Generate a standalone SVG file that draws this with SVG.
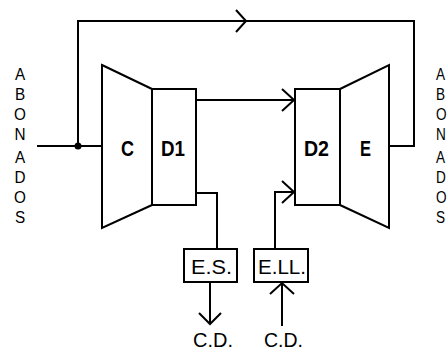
<svg xmlns="http://www.w3.org/2000/svg" width="448" height="352" viewBox="0 0 448 352">
<style>
.s{fill:none;stroke:#000;stroke-width:2;stroke-linejoin:miter}
.b{fill:#fff;stroke:#000;stroke-width:2}
.lb{font-family:"Liberation Sans",Arial,sans-serif;font-weight:bold;font-size:22px;fill:#000}
.t{font-family:"Liberation Sans",Arial,sans-serif;font-size:21px;fill:#000}
.v{font-family:"Liberation Sans",Arial,sans-serif;font-size:17px;fill:#000;text-anchor:middle}
.w{font-family:"Liberation Sans",Arial,sans-serif;font-size:17px;fill:#000}
</style>
<rect width="448" height="352" fill="#fff"/>
<g id="connectors">
<polyline class="s" points="78,146 78,21 414,21 414,146 389,146"/>
<line class="s" x1="37" y1="146" x2="102" y2="146"/>
<circle cx="78" cy="146" r="3.5" fill="#000"/>
<polyline class="s" points="236,10 246,21 236,32"/>
<line class="s" x1="196" y1="100" x2="295" y2="100"/>
<polyline class="s" points="282,89 294,100 282,111"/>
<polyline class="s" points="196,193 217,193 217,249"/>
<line class="s" x1="210" y1="282" x2="210" y2="324"/>
<polyline class="s" points="199,313 210,324 221,313"/>
<line class="s" x1="282" y1="326" x2="282" y2="282"/>
<polyline class="s" points="270,294 282,283 294,294"/>
<polyline class="s" points="275,249 275,192 295,192"/>
<polyline class="s" points="282,181 294,192 282,203"/>
</g>
<g id="node-C">
<polygon class="b" points="102,65 152,89 152,205 102,228"/>
<text class="lb" x="121" y="156" textLength="13" lengthAdjust="spacingAndGlyphs">C</text>
</g>
<g id="node-D1">
<rect class="b" x="152" y="89" width="44" height="116"/>
<text class="lb" x="161" y="156" textLength="24" lengthAdjust="spacingAndGlyphs">D1</text>
</g>
<g id="node-D2">
<rect class="b" x="295" y="89" width="45" height="116"/>
<text class="lb" x="304" y="156" textLength="25" lengthAdjust="spacingAndGlyphs">D2</text>
</g>
<g id="node-E">
<polygon class="b" points="340,89 389,65 389,228 340,205"/>
<text class="lb" x="360" y="156" textLength="11" lengthAdjust="spacingAndGlyphs">E</text>
</g>
<g id="node-ES">
<rect class="b" x="184" y="249" width="53" height="33"/>
<text class="t" x="191" y="274" textLength="41" lengthAdjust="spacingAndGlyphs">E.S.</text>
</g>
<g id="node-ELL">
<rect class="b" x="254" y="249" width="54" height="33"/>
<text class="t" x="258" y="274" textLength="48" lengthAdjust="spacingAndGlyphs">E.LL.</text>
</g>
<g id="node-CD1">
<text class="t" x="193" y="347" textLength="40" lengthAdjust="spacingAndGlyphs">C.D.</text>
</g>
<g id="node-CD2">
<text class="t" x="264" y="347" textLength="39" lengthAdjust="spacingAndGlyphs">C.D.</text>
</g>
<g id="label-left">
<g transform="translate(20,0) scale(0.9,1)">
<text class="v" x="0" y="80">A</text>
<text class="v" x="0" y="100">B</text>
<text class="v" x="0" y="120">O</text>
<text class="v" x="0" y="140">N</text>
<text class="v" x="0" y="163">A</text>
<text class="v" x="0" y="183">D</text>
<text class="v" x="0" y="203">O</text>
<text class="v" x="0" y="223">S</text>
</g>
</g>
<g id="label-right">
<g transform="translate(436,0) scale(0.8,1)">
<text class="w" x="0" y="80">A</text>
<text class="w" x="0" y="100">B</text>
<text class="w" x="0" y="120">O</text>
<text class="w" x="0" y="140">N</text>
<text class="w" x="0" y="163">A</text>
<text class="w" x="0" y="183">D</text>
<text class="w" x="0" y="203">O</text>
<text class="w" x="0" y="223">S</text>
</g>
</g>
</svg>
